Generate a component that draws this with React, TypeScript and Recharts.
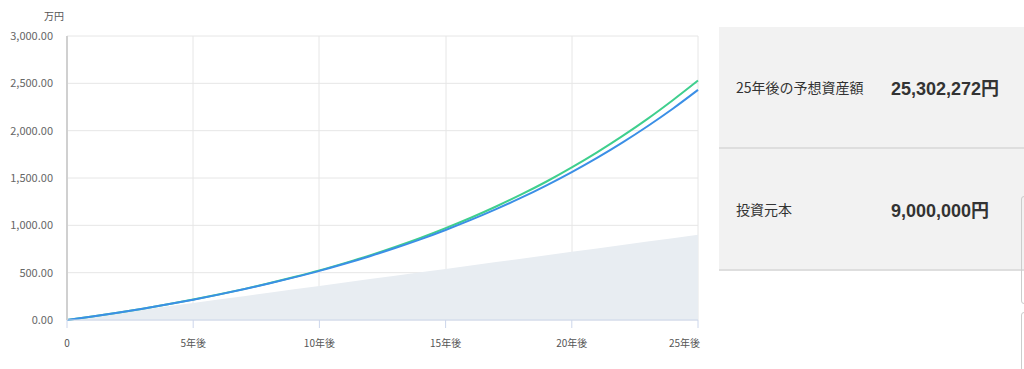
import { ComposedChart, Area, Line, XAxis, YAxis, CartesianGrid } from "recharts";

const years = [0, 1, 2, 3, 4, 5, 6, 7, 8, 9, 10, 11, 12, 13, 14, 15, 16, 17, 18, 19, 20, 21, 22, 23, 24, 25];
const principal = [0, 36, 72, 108, 144, 180, 216, 252, 288, 324, 360, 396, 432, 468, 504, 540, 576, 612, 648, 684, 720, 756, 792, 828, 864, 900];
const expected = [0, 37, 77, 120, 166, 216, 269, 326, 388, 454, 524, 601, 683, 772, 867, 970, 1080, 1199, 1326, 1463, 1612, 1771, 1942, 2125, 2322, 2530];
const baseline = [0, 37, 77, 120, 166, 215, 268, 324, 385, 450, 519, 594, 674, 760, 852, 951, 1057, 1171, 1292, 1423, 1563, 1713, 1874, 2047, 2232, 2431];
const xTicks = [0, 5, 10, 15, 20, 25];
const yTicks = [0, 500, 1000, 1500, 2000, 2500, 3000];

const summary = [
  { label: "25年後の予想資産額", value: "25,302,272円" },
  { label: "投資元本", value: "9,000,000円" },
];

const data = years.map((y, i) => ({
  year: y,
  principal: principal[i],
  expected: expected[i],
  baseline: baseline[i],
}));

const FONT = "'Noto Sans CJK JP', 'Noto Sans', sans-serif";

const XTick = (props: any) => {
  const { x, y, payload, index } = props;
  const last = index === xTicks.length - 1;
  const label = payload.value === 0 ? "0" : `${payload.value}年後`;
  return (
    <text x={last ? x + 2 : x} y={y + 10} dy="0.71em" textAnchor={last ? "end" : "middle"} fill="#555" fontSize={10} fontFamily={FONT}>
      {label}
    </text>
  );
};

export default function App() {
  return (
    <div style={{ position: "absolute", left: 0, top: 0, width: 1024, height: 369, background: "#fff", fontFamily: FONT, overflow: "hidden" }}>
      <div style={{ position: "absolute", left: 44, top: 8, fontSize: 10, color: "#555" }}>万円</div>
      <div style={{ position: "absolute", left: 0, top: 0 }}>
        <ComposedChart width={710} height={369} data={data} margin={{ top: 36, right: 12, left: 0, bottom: 19 }}>
          <CartesianGrid stroke="#e6e6e6" verticalPoints={[193, 319, 446, 572, 698]} />
          <XAxis
            dataKey="year"
            type="number"
            domain={[0, 25]}
            ticks={xTicks}
            height={30}
            tick={<XTick />}
            tickSize={8}
            tickLine={{ stroke: "#ccd6eb" }}
            axisLine={{ stroke: "#ccd6eb" }}
          />
          <YAxis
            domain={[0, 3000]}
            ticks={yTicks}
            width={67}
            tickLine={false}
            tickMargin={8}
            axisLine={{ stroke: "#d0d0d0", strokeWidth: 2 }}
            tick={{ fill: "#666", fontSize: 11, fontFamily: FONT }}
            tickFormatter={(v: number) => v.toLocaleString("en-US", { minimumFractionDigits: 2, maximumFractionDigits: 2 })}
          />
          <Area dataKey="principal" type="linear" stroke="none" fill="#e8edf2" fillOpacity={1} isAnimationActive={false} />
          <Line dataKey="expected" type="monotone" stroke="#3fcf8e" strokeWidth={2} dot={false} isAnimationActive={false} />
          <Line dataKey="baseline" type="monotone" stroke="#3b8fe6" strokeWidth={2} dot={false} isAnimationActive={false} />
        </ComposedChart>
      </div>
      <div style={{ position: "absolute", left: 719, top: 27, width: 320, background: "#f2f2f2" }}>
        {summary.map((s) => (
          <div key={s.label} style={{ height: 120, borderBottom: "2px solid #dedede", display: "flex", alignItems: "center" }}>
            <div style={{ width: 155, paddingLeft: 17, fontSize: 14, color: "#333" }}>{s.label}</div>
            <div style={{ fontSize: 18, fontWeight: "bold", color: "#333", fontFamily: "'Liberation Sans', 'Noto Sans CJK JP', sans-serif" }}>{s.value}</div>
          </div>
        ))}
      </div>
      <div style={{ position: "absolute", left: 1021, top: 196, width: 10, height: 106, border: "1px solid #ccc", borderRadius: 3 }} />
      <div style={{ position: "absolute", left: 1021, top: 312, width: 10, height: 60, border: "1px solid #ccc", borderRadius: 3 }} />
    </div>
  );
}
